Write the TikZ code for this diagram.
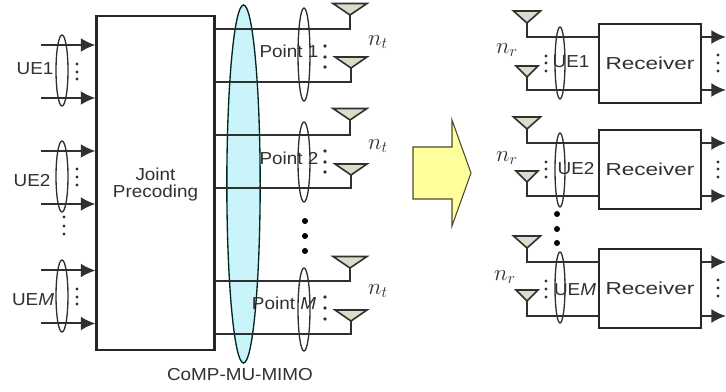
\documentclass[tikz,border=0pt]{standalone}
\usepackage{fontspec}
\setmainfont[FakeStretch=1.09]{Liberation Sans}
\newfontfamily\wideface[FakeStretch=1.3]{Liberation Sans}
\usetikzlibrary{calc,arrows.meta,shapes.geometric}
\definecolor{inkgray}{HTML}{303030}
\definecolor{antfill}{HTML}{DCDCCB}
\definecolor{beamfill}{HTML}{C9F5FA}
\definecolor{bigarrow}{HTML}{FFFF9C}
\tikzset{
  wire/.style={line width=1.5pt,color=inkgray},
  arrowline/.style={line width=1.5pt,color=inkgray,-{Latex[length=11pt,width=10.5pt]}},
  antenna/.style={line width=1.2pt,color=inkgray,fill=antfill,line join=miter},
  lens/.style={ellipse,draw=inkgray,line width=1pt,inner sep=0pt,minimum width=9pt},
  blockbox/.style={rectangle,draw=black!85,line width=1.6pt,inner sep=0pt,text=inkgray},
  lbl/.style={text=inkgray,inner sep=0pt,font=\fontsize{13pt}{12.75pt}\selectfont},
  nlbl/.style={text=inkgray,inner sep=0pt,font=\LARGE},
}
\begin{document}
\begin{tikzpicture}[x=0.75pt,y=-0.75pt]
  \useasboundingbox (0,0) rectangle (726,392);
  % shared beam, under the wires
  \node[ellipse,draw=black!70!teal,fill=beamfill,line width=1pt,inner sep=0pt,minimum width=25pt,minimum height=268.5pt](beam)at(243.5,184){};
  \node[blockbox,minimum width=88.5pt,minimum height=250.5pt](jp)at(155.5,183){};
  \node[lbl,align=center](jt)at(155.5,185){Joint\\Precoding};
  % inputs
  \coordinate(u1)at(41,45);
  \coordinate(u2)at(41,98);
  \coordinate(u3)at(41,151);
  \coordinate(u4)at(41,204);
  \coordinate(u5)at(41,270.5);
  \coordinate(u6)at(41,323.5);
  \draw[arrowline](u1)--(jp.west|-u1);
  \draw[arrowline](u2)--(jp.west|-u2);
  \draw[arrowline](u3)--(jp.west|-u3);
  \draw[arrowline](u4)--(jp.west|-u4);
  \draw[arrowline](u5)--(jp.west|-u5);
  \draw[arrowline](u6)--(jp.west|-u6);
  \node[lens,minimum height=53.25pt](ue1)at(62,70.5){};
  \node[lens,minimum height=53.25pt](ue2)at(62,176.5){};
  \node[lens,minimum height=54pt](uem)at(62,296){};
  \node[lbl](uea)at(35,69){UE1};
  \node[lbl](ueb)at(32,181){UE2};
  \node[lbl](uec)at(33,300){UE\textit{M}};
  \fill[inkgray](77,64)circle(1.6)(77,72)circle(1.6)(77,79)circle(1.6);
  \fill[inkgray](77,169)circle(1.6)(77,177)circle(1.6)(77,185)circle(1.6);
  \fill[inkgray](64,217)circle(1.6)(64,226)circle(1.6)(64,234)circle(1.6);
  \fill[inkgray](77,289)circle(1.6)(77,297)circle(1.6)(77,304)circle(1.6);
  % transmit antennas
  \coordinate(t1)at(350,15);
  \coordinate(t2)at(351,68);
  \coordinate(t3)at(350,120);
  \coordinate(t4)at(351,175);
  \coordinate(t5)at(350,268);
  \coordinate(t6)at(351,321);
  \draw[wire](jp.east|-0,29.5)-|(t1);
  \draw[wire](jp.east|-0,82)-|(t2);
  \draw[wire](jp.east|-0,135.5)-|(t3);
  \draw[wire](jp.east|-0,188.5)-|(t4);
  \draw[wire](jp.east|-0,281)-|(t5);
  \draw[wire](jp.east|-0,334)-|(t6);
  \draw[antenna](t1)--++(-17,-11.5)--++(34,0)--cycle;
  \draw[antenna](t2)--++(-16,-11)--++(32,0)--cycle;
  \draw[antenna](t3)--++(-17,-11.5)--++(34,0)--cycle;
  \draw[antenna](t4)--++(-16,-11)--++(32,0)--cycle;
  \draw[antenna](t5)--++(-17,-11.5)--++(34,0)--cycle;
  \draw[antenna](t6)--++(-16,-11)--++(32,0)--cycle;
  \node[lens,minimum height=69.75pt](p1)at(304,54.5){};
  \node[lens,minimum height=60pt](p2)at(304,162){};
  \node[lens,minimum height=62.25pt](pm)at(304,309.5){};
  \node[lbl](pa)at(289,51){Point 1};
  \node[lbl](pb)at(289,158){Point 2};
  \node[lbl](pc)at(284,303){Point \textit{M}};
  \fill[inkgray](325,46)circle(1.8)(325,57)circle(1.8)(325,67)circle(1.8);
  \fill[inkgray](325,151)circle(1.8)(325,162)circle(1.8)(325,172)circle(1.8);
  \fill[inkgray](325,297)circle(1.8)(325,308)circle(1.8)(325,319)circle(1.8);
  \fill[black](305,221)circle(3)(305,236)circle(3)(305,251)circle(3);
  \node[nlbl](na)at(378,42){$n_t$};
  \node[nlbl](nb)at(378,146){$n_t$};
  \node[nlbl](nc)at(378,291){$n_t$};
  \node[lbl](cm)at(240,375){CoMP-MU-MIMO};
  % big arrow
  \draw[draw=black!60!olive,fill=bigarrow,line width=.8pt](413,147)--(452,147)--(452,120)--(471,173)--(452,226)--(452,199)--(413,199)--cycle;
  % receivers
  \node[blockbox,minimum width=76.5pt,minimum height=59.25pt,font=\wideface\fontsize{13pt}{13.5pt}\selectfont](r1)at(650,63.5){Receiver};
  \node[blockbox,minimum width=76.5pt,minimum height=59.25pt,font=\wideface\fontsize{13pt}{13.5pt}\selectfont](r2)at(650,169.5){Receiver};
  \node[blockbox,minimum width=76.5pt,minimum height=59.25pt,font=\wideface\fontsize{13pt}{13.5pt}\selectfont](r3)at(650,288.5){Receiver};
  \coordinate(a1)at(527,23);
  \coordinate(a2)at(527,77);
  \coordinate(a3)at(527,129);
  \coordinate(a4)at(527,182);
  \coordinate(a5)at(527,248);
  \coordinate(a6)at(527,301);
  \draw[wire](r1.west|-0,37)-|(a1);
  \draw[wire](r1.west|-0,90)-|(a2);
  \draw[wire](r2.west|-0,143)-|(a3);
  \draw[wire](r2.west|-0,196)-|(a4);
  \draw[wire](r3.west|-0,262)-|(a5);
  \draw[wire](r3.west|-0,316)-|(a6);
  \draw[antenna](a1)--++(-13.5,-12)--++(27,0)--cycle;
  \draw[antenna](a2)--++(-11,-11)--++(22,0)--cycle;
  \draw[antenna](a3)--++(-13.5,-12)--++(27,0)--cycle;
  \draw[antenna](a4)--++(-11,-11)--++(22,0)--cycle;
  \draw[antenna](a5)--++(-13.5,-12)--++(27,0)--cycle;
  \draw[antenna](a6)--++(-11,-11)--++(22,0)--cycle;
  \node[lens,minimum width=7.5pt,minimum height=54pt](e1)at(560,63){};
  \node[lens,minimum width=7.5pt,minimum height=55.5pt](e2)at(560,170){};
  \node[lens,minimum width=7.5pt,minimum height=53.25pt](e3)at(560,287.5){};
  \node[lbl](ra)at(571,62){UE1};
  \node[lbl](rb)at(576,169){UE2};
  \node[lbl](rc)at(575,290){UE\textit{M}};
  \fill[inkgray](546,56)circle(1.6)(546,63)circle(1.6)(546,71)circle(1.6);
  \fill[inkgray](546,162)circle(1.6)(546,169)circle(1.6)(546,177)circle(1.6);
  \fill[inkgray](546,281)circle(1.6)(546,289)circle(1.6)(546,297)circle(1.6);
  \fill[black](557,214)circle(3)(557,229)circle(3)(557,243)circle(3);
  \node[nlbl](ma)at(507,50){$n_r$};
  \node[nlbl](mb)at(507,158){$n_r$};
  \node[nlbl](mc)at(505,277){$n_r$};
  % outputs
  \coordinate(o1)at(726,37);
  \coordinate(o2)at(726,90);
  \coordinate(o3)at(726,143);
  \coordinate(o4)at(726,196);
  \coordinate(o5)at(726,262);
  \coordinate(o6)at(726,316);
  \draw[arrowline](r1.east|-o1)--(o1);
  \draw[arrowline](r1.east|-o2)--(o2);
  \draw[arrowline](r2.east|-o3)--(o3);
  \draw[arrowline](r2.east|-o4)--(o4);
  \draw[arrowline](r3.east|-o5)--(o5);
  \draw[arrowline](r3.east|-o6)--(o6);
  \fill[inkgray](718,55)circle(1.6)(718,63)circle(1.6)(718,71)circle(1.6);
  \fill[inkgray](718,162)circle(1.6)(718,169)circle(1.6)(718,177)circle(1.6);
  \fill[inkgray](718,280)circle(1.6)(718,288)circle(1.6)(718,296)circle(1.6);
\end{tikzpicture}
\end{document}
